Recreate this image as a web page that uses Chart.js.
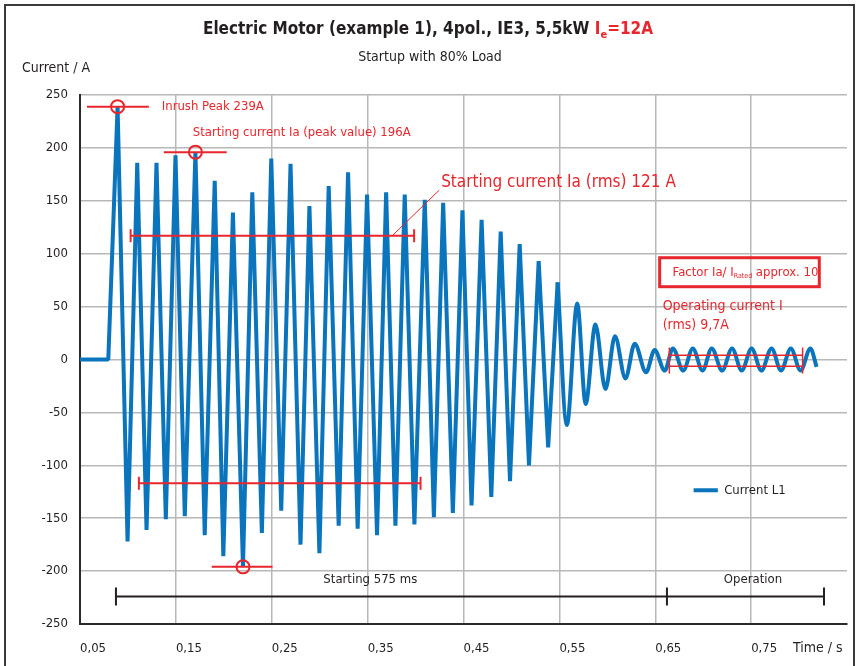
<!DOCTYPE html>
<html>
<head>
<meta charset="utf-8">
<script src="https://cdn.jsdelivr.net/npm/chart.js@4.4.1/dist/chart.umd.min.js"></script>
<style>
  body { margin: 0; background: #fff; }
  canvas { display: block; }
</style>
</head>
<body>
<canvas id="motorChart" width="857" height="666"></canvas>
<script>
// start-up part, sharp peaks (time in s, current in A)
const timeStart = [0.05, 0.0795, 0.0892, 0.0996, 0.1097, 0.1194, 0.1298, 0.1395, 0.1496, 0.1593,
  0.1704, 0.1801, 0.1905, 0.1995, 0.2095, 0.2200, 0.2297, 0.2397, 0.2495, 0.2599,
  0.2696, 0.2800, 0.2893, 0.2997, 0.3094, 0.3198, 0.3296, 0.3396, 0.3494, 0.3598,
  0.3693, 0.3790, 0.3887, 0.3988, 0.4096, 0.4191, 0.4288, 0.4389, 0.4489, 0.4584,
  0.4689, 0.4790, 0.4888, 0.4985, 0.5086, 0.5183, 0.5284, 0.5383, 0.5482];
const currentStart = [0, 0, 239, -172, 186, -161, 186, -151, 193, -148,
  196, -166, 169, -186, 139, -196, 158, -164, 190, -143,
  185, -175, 145, -183, 164, -157, 177, -160, 156, -166,
  158, -157, 156, -156, 151, -149, 148, -145, 141, -138,
  132, -130, 121, -115, 109, -100, 93, -83, 73];

// settling / operation part, rounded
const timeRun = [0.5482, 0.5578, 0.5686, 0.5774, 0.5876, 0.5980, 0.6080, 0.6189, 0.6286, 0.6404,
  0.6494, 0.6599, 0.6684, 0.6792, 0.6892, 0.6993, 0.7089, 0.7198, 0.7301, 0.7402,
  0.7505, 0.7607, 0.7713, 0.7812, 0.7914, 0.8016, 0.8118, 0.8183];
const currentRun = [73, -62, 53, -42, 33, -28, 22, -18, 15, -12,
  9, -10.5, 10.5, -10.5, 10.5, -10.5, 10.5, -10.5, 10.5, -10.5,
  10.5, -10.5, 10.5, -10.5, 10.5, -10.5, 10.5, -7];

const xTicks = [0.05, 0.15, 0.25, 0.35, 0.45, 0.55, 0.65, 0.75];
const yTicks = [-250, -200, -150, -100, -50, 0, 50, 100, 150, 200, 250];

const FONT = "'Liberation Sans Narrow', 'DejaVu Sans Condensed', 'Arial Narrow', sans-serif";
const RED = '#e8262d';
const BLUE = '#0a74bd';
const TXT = '#231f20';

Chart.defaults.font.family = FONT;
Chart.defaults.color = TXT;

function pts(ts, vs) {
  return ts.map((t, i) => ({x: t, y: vs[i]}));
}

const extras = {
  id: 'extras',
  beforeDraw(chart) {
    const ctx = chart.ctx;
    ctx.save();
    ctx.fillStyle = '#fff';
    ctx.fillRect(0, 0, chart.width, chart.height);
    ctx.strokeStyle = '#3a3a3a';
    ctx.lineWidth = 2;
    ctx.strokeRect(5, 5, 849, 680);
    ctx.restore();
  },
  afterDatasetsDraw(chart) {
    const ctx = chart.ctx;
    const X = v => chart.scales.x.getPixelForValue(v);
    const Y = v => chart.scales.y.getPixelForValue(v);
    ctx.save();

    function hline(x1, x2, y, color, w) {
      ctx.strokeStyle = color; ctx.lineWidth = w;
      ctx.beginPath(); ctx.moveTo(X(x1), Y(y)); ctx.lineTo(X(x2), Y(y)); ctx.stroke();
    }
    function tick(x, y, half, color, w) {
      ctx.strokeStyle = color; ctx.lineWidth = w;
      ctx.beginPath(); ctx.moveTo(X(x), Y(y) - half); ctx.lineTo(X(x), Y(y) + half); ctx.stroke();
    }
    function circle(x, y) {
      ctx.strokeStyle = RED; ctx.lineWidth = 2;
      ctx.beginPath(); ctx.arc(X(x), Y(y), 6.5, 0, Math.PI * 2); ctx.stroke();
    }
    function text(s, x, y, size, color, align) {
      ctx.fillStyle = color; ctx.font = size + 'px ' + FONT;
      ctx.textAlign = align || 'left'; ctx.textBaseline = 'middle';
      ctx.fillText(s, X(x), Y(y));
    }

    // inrush peak
    hline(0.0573, 0.1218, 239, RED, 2);
    circle(0.0892, 239);
    text('Inrush Peak 239A', 0.1353, 239, 13, RED);

    // starting current peak value
    hline(0.1374, 0.2030, 196, RED, 2);
    circle(0.1704, 196);
    hline(0.1874, 0.2508, -196, RED, 2);
    circle(0.2200, -196);
    text('Starting current Ia (peak value) 196A', 0.1676, 214.5, 13, RED);

    // rms bars
    hline(0.1028, 0.3985, 117, RED, 2);
    tick(0.1028, 117, 6.5, RED, 2);
    tick(0.3985, 117, 6.5, RED, 2);
    hline(0.1114, 0.4052, -117, RED, 2);
    tick(0.1114, -117, 6.5, RED, 2);
    tick(0.4052, -117, 6.5, RED, 2);
    ctx.strokeStyle = RED; ctx.lineWidth = 1;
    ctx.beginPath(); ctx.moveTo(X(0.3757), Y(117)); ctx.lineTo(X(0.4246), Y(160)); ctx.stroke();
    text('Starting current Ia (rms) 121 A', 0.4267, 167.5, 17, RED);

    // factor box
    const bx1 = X(0.6546), bx2 = X(0.8211), by1 = Y(96.2), by2 = Y(68.8);
    ctx.strokeStyle = RED; ctx.lineWidth = 3;
    ctx.strokeRect(bx1, by1, bx2 - bx1, by2 - by1);
    ctx.fillStyle = RED; ctx.textAlign = 'left'; ctx.textBaseline = 'middle';
    ctx.font = '13px ' + FONT;
    let fx = X(0.6681), fy = Y(82.3);
    ctx.fillText('Factor Ia/ I', fx, fy);
    fx += ctx.measureText('Factor Ia/ I').width;
    ctx.font = '7px ' + FONT;
    ctx.fillText('Rated', fx, fy + 4);
    fx += ctx.measureText('Rated').width;
    ctx.font = '13px ' + FONT;
    ctx.fillText(' approx. 10', fx, fy);

    // operating current
    text('Operating current I', 0.6577, 50.1, 14, RED);
    text('(rms) 9,7A', 0.6577, 32.2, 14, RED);
    hline(0.6647, 0.8037, 4.1, RED, 1.5);
    hline(0.6647, 0.8037, -6.3, RED, 1.5);
    tick(0.6647, -1, 13, RED, 1.5);
    tick(0.8037, -1, 13, RED, 1.5);

    // starting / operation bar
    hline(0.0875, 0.826, -224, '#231f20', 2);
    tick(0.0875, -224, 9, '#231f20', 2);
    tick(0.6622, -224, 9, '#231f20', 2);
    tick(0.826, -224, 9, '#231f20', 2);
    text('Starting 575 ms', 0.3528, -208, 13, TXT, 'center');
    text('Operation', 0.7519, -208, 13, TXT, 'center');

    // legend
    const ds = chart.data.datasets[0];
    ctx.strokeStyle = ds.borderColor; ctx.lineWidth = 4;
    ctx.beginPath(); ctx.moveTo(X(0.6900), Y(-123.6)); ctx.lineTo(X(0.7153), Y(-123.6)); ctx.stroke();
    text(ds.label, 0.7219, -123.6, 13, TXT);

    ctx.restore();
  },
  afterDraw(chart) {
    const ctx = chart.ctx;
    ctx.save();
    ctx.textBaseline = 'middle';

    // title with red I_e part
    const t1 = 'Electric Motor (example 1), 4pol., IE3, 5,5kW ';
    ctx.font = 'bold 17px ' + FONT;
    const w1 = ctx.measureText(t1).width;
    const wI = ctx.measureText('I').width;
    const wRest = ctx.measureText('=12A').width;
    ctx.font = 'bold 11px ' + FONT;
    const wE = ctx.measureText('e').width;
    let x = 428 - (w1 + wI + wE + wRest) / 2;
    const ty = 30;
    ctx.textAlign = 'left';
    ctx.fillStyle = TXT;
    ctx.font = 'bold 17px ' + FONT;
    ctx.fillText(t1, x, ty); x += w1;
    ctx.fillStyle = RED;
    ctx.fillText('I', x, ty); x += wI;
    ctx.font = 'bold 11px ' + FONT;
    ctx.fillText('e', x, ty + 5); x += wE;
    ctx.font = 'bold 17px ' + FONT;
    ctx.fillText('=12A', x, ty);

    ctx.fillStyle = TXT;
    ctx.font = '14px ' + FONT;
    ctx.textAlign = 'center';
    ctx.fillText('Startup with 80% Load', 430, 57);

    ctx.textAlign = 'left';
    ctx.font = '14px ' + FONT;
    ctx.fillText('Current / A', 22, 68);
    ctx.fillText('Time / s', 793, 648);
    ctx.restore();
  }
};

new Chart(document.getElementById('motorChart'), {
  type: 'line',
  data: {
    datasets: [{
      label: 'Current L1',
      data: pts(timeStart, currentStart),
      borderColor: BLUE,
      borderWidth: 4,
      pointRadius: 0,
      tension: 0,
      borderJoinStyle: 'bevel'
    }, {
      label: 'Current L1',
      data: pts(timeRun, currentRun),
      borderColor: BLUE,
      borderWidth: 4,
      pointRadius: 0,
      cubicInterpolationMode: 'monotone'
    }]
  },
  options: {
    responsive: false,
    animation: false,
    devicePixelRatio: 1,
    layout: { padding: { left: 0, right: 10, top: 95, bottom: 0 } },
    plugins: {
      legend: { display: false },
      tooltip: { enabled: false }
    },
    scales: {
      x: {
        type: 'linear',
        min: 0.05,
        max: 0.85,
        afterBuildTicks: scale => { scale.ticks = xTicks.map(v => ({value: v})); },
        afterFit: scale => { scale.height = 42; },
        grid: { color: '#b8b8b8', lineWidth: 1.5, drawTicks: false },
        border: { color: '#2b2b2b', width: 2 },
        ticks: {
          align: 'start',
          padding: 17,
          maxRotation: 0,
          font: { size: 13 },
          color: TXT,
          callback: v => v.toFixed(2).replace('.', ',')
        }
      },
      y: {
        min: -250,
        max: 250,
        afterBuildTicks: scale => { scale.ticks = yTicks.map(v => ({value: v})); },
        afterFit: scale => { scale.width = 80; },
        grid: { color: '#b8b8b8', lineWidth: 1.5, drawTicks: false },
        border: { color: '#2b2b2b', width: 2 },
        ticks: {
          padding: 12,
          font: { size: 13 },
          color: TXT,
          callback: v => String(v)
        }
      }
    }
  },
  plugins: [extras]
});
</script>
</body>
</html>
